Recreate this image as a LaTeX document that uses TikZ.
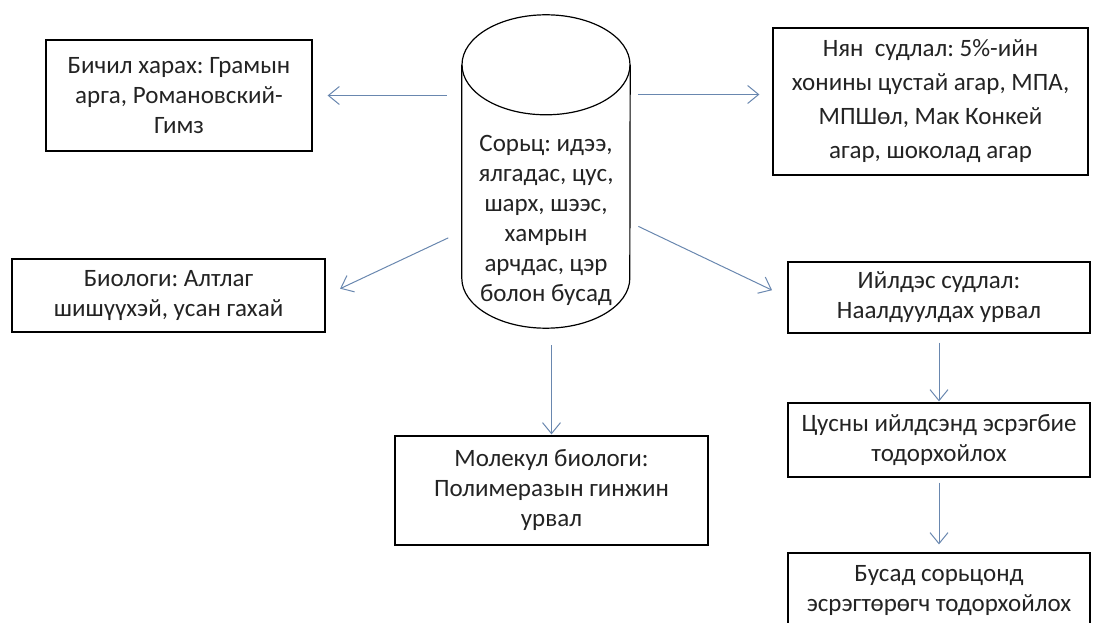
\documentclass[tikz,border=0pt]{standalone}
\usepackage{fontspec}
\setmainfont{Carlito}
\usetikzlibrary{arrows.meta}
\definecolor{setacor}{RGB}{105,135,175}
\definecolor{textocor}{RGB}{35,35,35}
\frenchspacing

\begin{document}
\begin{tikzpicture}[x=1pt, y=1pt,
        caixa/.style={draw, line width=1.2pt, align=center, inner sep=0pt, text=textocor, font=\fontsize{25}{30}\selectfont},
        seta/.style={setacor, line width=1pt, -{Straight Barb[length=11pt,width=18pt]}}]
        \useasboundingbox (0,0) rectangle (1093,622);

        \node[minimum width=168pt, minimum height=313pt, inner sep=0pt] (sorts) at (546, 450.5) {};
        \node[align=center, text=textocor, font=\fontsize{25}{30}\selectfont] (sortstxt) at (546, 402) {Сорьц: идээ,\\ялгадас, цус,\\шарх, шээс,\\хамрын\\арчдас, цэр\\болон бусад};
        \draw[line width=1.2pt] ([yshift=-50pt]sorts.north) ellipse [x radius=84pt, y radius=50pt];
        \draw[line width=1.2pt] ([yshift=-50pt]sorts.north west) -- ([yshift=50pt]sorts.south west)
                arc[start angle=180, end angle=360, x radius=84pt, y radius=50pt] -- ([yshift=-50pt]sorts.north east);

        \node[caixa, minimum width=266pt, minimum height=111pt] (bichil) at (179, 526.5) {Бичил харах: Грамын\\арга, Романовский-\\Гимз};
        \node[caixa, font=\fontsize{25}{34}\selectfont, minimum width=315pt, minimum height=147pt] (nyan) at (930.5, 520.5) {Нян\ \ судлал: 5\%-ийн\\хонины цустай агар, МПА,\\МПШөл, Мак Конкей\\агар, шоколад агар};
        \node[caixa, minimum width=313pt, minimum height=73pt] (biologi) at (168.5, 326.5) {Биологи: Алтлаг\\шишүүхэй, усан гахай};
        \node[caixa, minimum width=302pt, minimum height=71pt] (iildes) at (939, 324.5) {Ийлдэс судлал:\\Наалдуулдах урвал};
        \node[caixa, minimum width=302pt, minimum height=74pt] (tsusny) at (939, 182) {Цусны ийлдсэнд эсрэгбие\\тодорхойлох};
        \node[caixa, minimum width=302pt, minimum height=75pt] (busad) at (939, 31.5) {Бусад сорьцонд\\эсрэгтөрөгч тодорхойлох};
        \node[caixa, minimum width=313pt, minimum height=109pt] (molekul) at (551.5, 131.5) {Молекул биологи:\\Полимеразын гинжин\\урвал};

        \draw[seta, shorten <=15pt, shorten >=15pt] (bichil.east -| sorts.west) -- (bichil.east);
        \draw[seta, shorten <=8pt, shorten >=13pt] ([yshift=7pt]nyan.west -| sorts.east) -- ([yshift=7pt]nyan.west);
        \draw[seta, shorten <=15pt, shorten >=16pt] ([yshift=-60pt]sorts.west) -- (biologi.east);
        \draw[seta, shorten <=9pt, shorten >=17pt] ([yshift=-51pt]sorts.east) -- (iildes.west);
        \draw[seta, shorten <=17pt, shorten >=1pt] (sorts.south -| molekul.north) -- (molekul.north);
        \draw[seta, shorten <=9pt, shorten >=1pt] (iildes) -- (tsusny);
        \draw[seta, shorten <=5pt, shorten >=8pt] (tsusny) -- (busad);

    \end{tikzpicture}
\end{document}
